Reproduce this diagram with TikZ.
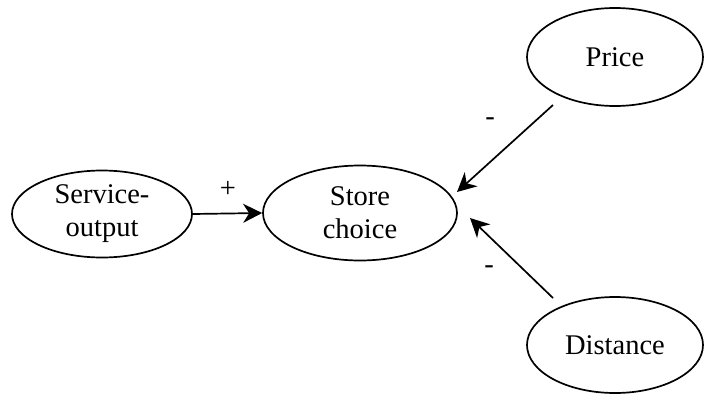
\documentclass[tikz,border=0pt]{standalone}
\usepackage{fontspec}
\setmainfont{Liberation Serif}
\usetikzlibrary{shapes.geometric,arrows.meta}
\begin{document}
\begin{tikzpicture}[x=1pt,y=-1pt,
  oval/.style={draw,ellipse,line width=1.7pt,inner sep=0pt,align=center,
    font=\fontsize{28.5}{33}\selectfont},
  arr/.style={line width=1.7pt,-{Stealth[length=19pt,width=19pt,inset=6pt]}},
  lbl/.style={anchor=base,inner sep=0pt,font=\fontsize{28.5}{33}\selectfont}]
\useasboundingbox (0,0) rectangle (704,394);
\node[oval,minimum width=180pt,minimum height=87pt] (Service) at (102,214) {Service-\\output};
\node[oval,minimum width=194pt,minimum height=95pt] (Store) at (360,213) {Store\\choice};
\node[oval,minimum width=176pt,minimum height=98pt] (Price) at (615,57) {Price};
\node[oval,minimum width=176pt,minimum height=96pt] (Distance) at (615,345) {Distance};
\draw[arr] (Service.east) -- (Store.west);
\draw[arr] ([shift={(-62,48)}]Price.center) -- ([shift={(97,-21)}]Store.center);
\draw[arr] ([shift={(-62,-47)}]Distance.center) -- ([shift={(110,5)}]Store.center);
\node[lbl] (plus) at (228,197) {+};
\node[lbl] (m1) at (490,125.5) {-};
\node[lbl] (m2) at (489,273.5) {-};
\end{tikzpicture}
\end{document}
